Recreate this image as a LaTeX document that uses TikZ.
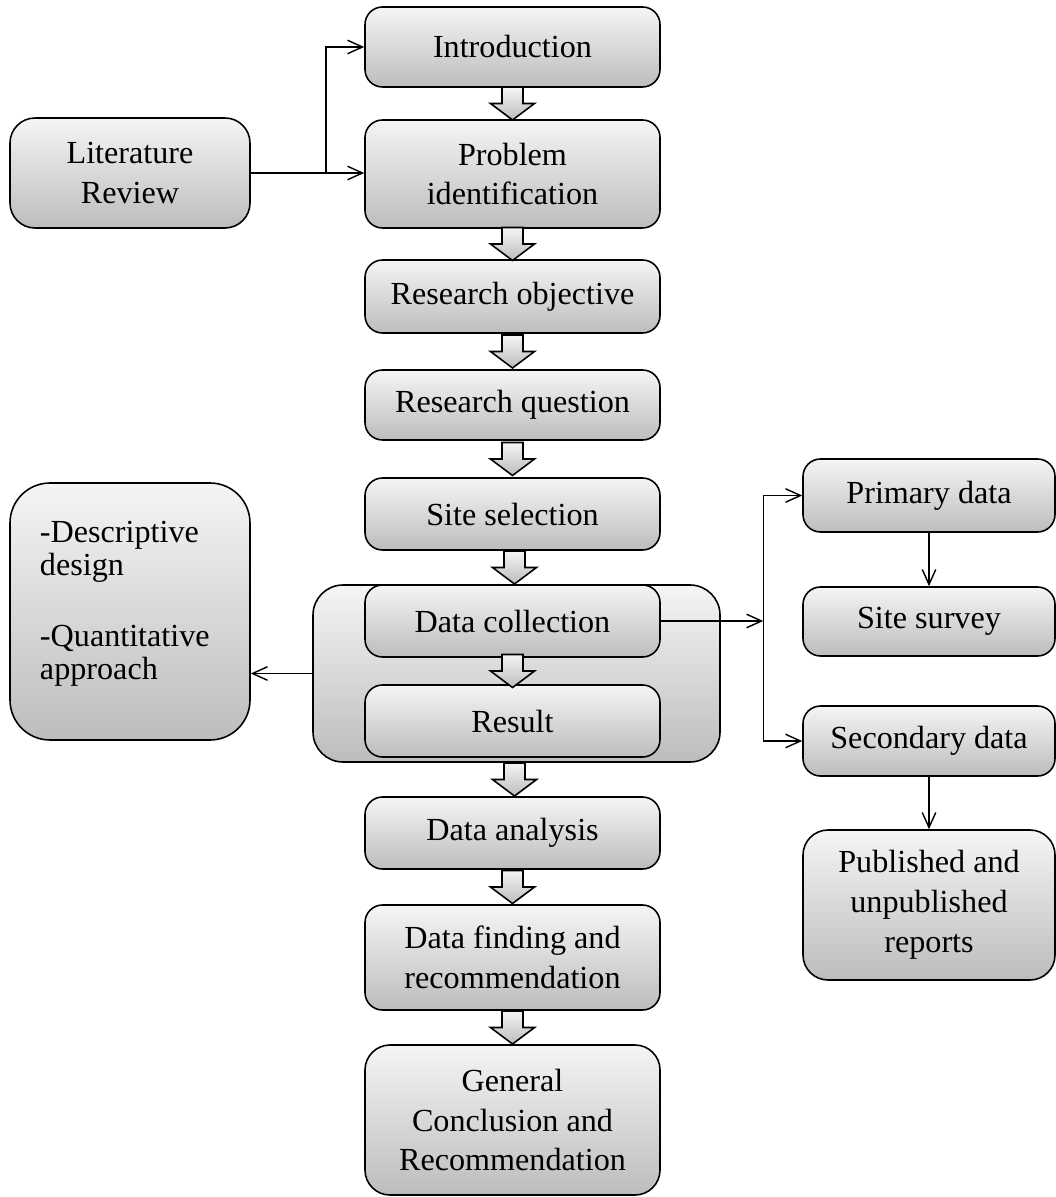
\documentclass[tikz,border=0pt]{standalone}
\usepackage{fontspec}
\setmainfont{Liberation Serif}
\usetikzlibrary{arrows.meta, calc, positioning}
\newcommand\boxfont{\fontsize{18.3}{22.7}\selectfont}
\tikzset{
	stepbox/.style={draw, line width=0.9pt, rounded corners=0.35cm, top color=black!4, bottom color=black!26,
		minimum width=5.9cm, minimum height=1.44cm, inner sep=2pt, align=center, font=\boxfont}
}
\tikzset{
	arrowfill/.style={draw, line width=0.9pt, top color=black!4, bottom color=black!26},
	downarr/.pic={\path[arrowfill] (-0.21,0.33) -- (-0.21,0) -- (-0.44,0) -- (0,-0.33) -- (0.44,0) -- (0.21,0) -- (0.21,0.33) -- cycle;}
}

\begin{document}
\begin{tikzpicture}[>={Straight Barb[length=3mm,width=2.7mm]}]
	\useasboundingbox (0,0) rectangle (21.1,-23.94);
	% outer box round collection and result
	\node[stepbox, minimum width=8.14cm, minimum height=3.54cm, rounded corners=0.6cm] (stage) at (10.33,-13.47) {};
	% main column
	\node[stepbox, minimum height=1.6cm] (intro) at (10.25,-0.94) {Introduction};
	\node[stepbox, minimum height=2.16cm] (prob) at (10.25,-3.48) {Problem\\identification};
	\node[stepbox, minimum height=1.46cm] (obj) at (10.25,-5.93) {Research objective};
	\node[stepbox, minimum height=1.4cm] (ques) at (10.25,-8.1) {Research question};
	\node[stepbox] (site) at (10.25,-10.28) {Site selection};
	\node[stepbox] (collect) at (10.25,-12.42) {Data collection};
	\node[stepbox] (result) at (10.25,-14.42) {Result};
	\node[stepbox] (analysis) at (10.25,-16.66) {Data analysis};
	\node[stepbox, minimum height=2.1cm] (finding) at (10.25,-19.15) {Data finding and\\recommendation};
	\node[stepbox, minimum height=3cm, rounded corners=0.5cm] (concl) at (10.25,-22.4) {General\\Conclusion and\\Recommendation};
	% left side
	\node[stepbox, minimum width=4.8cm, minimum height=2.2cm, rounded corners=0.5cm] (lit) at (2.6,-3.46) {Literature\\Review};
	\node[stepbox, minimum width=4.8cm, minimum height=5.14cm, rounded corners=0.8cm, text width=3.6cm, align=left,
		font=\fontsize{18.3}{18.7}\selectfont] (design) at (2.6,-12.23) {-Descriptive\\design\\[22pt]-Quantitative\\approach\rule[-0.44cm]{0pt}{0pt}};
	% right side
	\node[stepbox, minimum width=5.04cm, minimum height=1.46cm] (prim) at (18.58,-9.91) {Primary data};
	\node[stepbox, minimum width=5.04cm, minimum height=1.38cm] (survey) at (18.58,-12.43) {Site survey};
	\node[stepbox, minimum width=5.04cm, minimum height=1.4cm] (sec) at (18.58,-14.82) {Secondary data};
	\node[stepbox, minimum width=5.04cm, minimum height=3cm, rounded corners=0.5cm] (pub) at (18.58,-18.1) {Published and\\unpublished\\reports};

	% block arrows
	\foreach \a/\b in {intro/prob, prob/obj, obj/ques, ques/site, site/stage, collect/result, stage/analysis, analysis/finding, finding/concl}
		\pic at ($(\a.south)!0.5!(\b.north)$) {downarr};

	% thin connectors
	\draw[line width=0.8pt, ->] (lit.east) -- ++(1.5,0) coordinate (j1) |- (intro.west);
	\draw[line width=0.8pt, ->] (j1) -- (j1 -| prob.west);
	\draw[line width=0.8pt, ->] (stage.west) -- (stage.west -| design.east);
	\draw[line width=0.8pt, ->] (collect.east) -- ++(2.05,0) coordinate (j2);
	\draw[line width=0.8pt, <->] (prim.west) -| (j2) |- (sec.west);
	\draw[line width=0.8pt, ->] (prim) -- (survey);
	\draw[line width=0.8pt, ->] (sec) -- (pub);
\end{tikzpicture}
\end{document}
